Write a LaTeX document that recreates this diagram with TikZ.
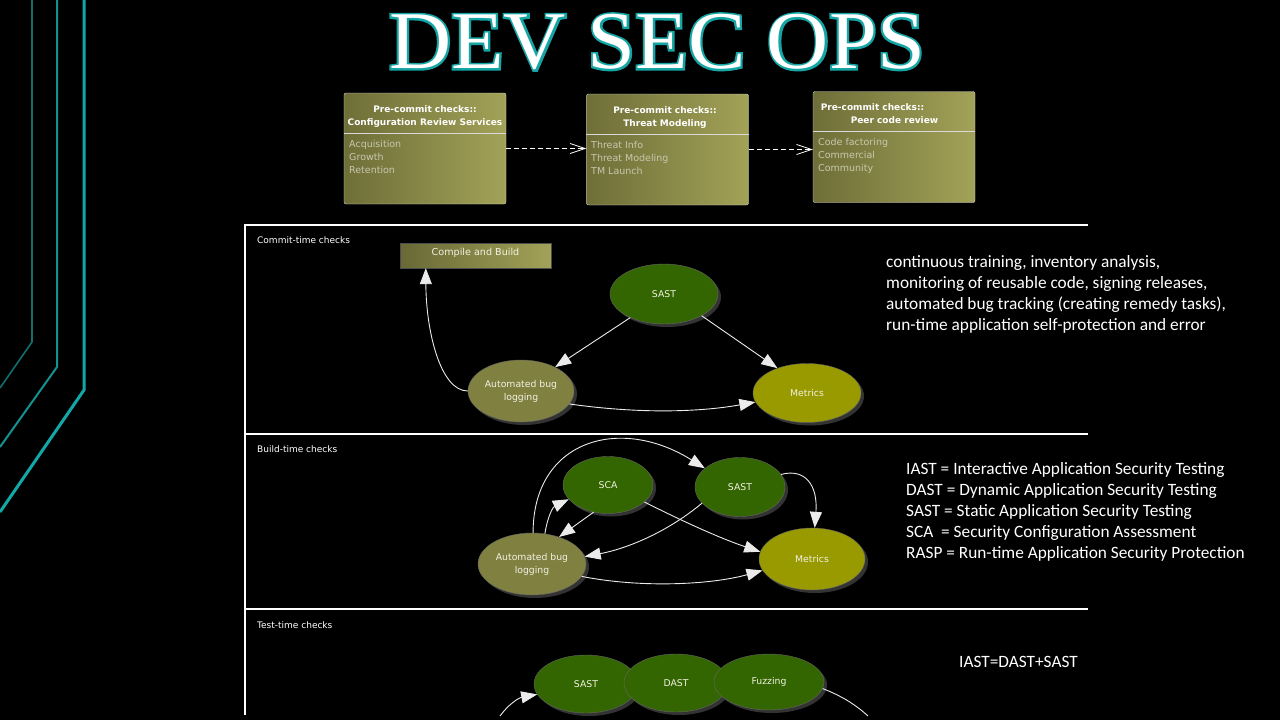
\documentclass[tikz,border=0pt]{standalone}
\usepackage{fontspec}
\setmainfont{DejaVu Sans}
\newfontfamily\carlito{Carlito}
\newfontfamily\ttlserif{Liberation Serif}
\newfontfamily\ttlglow[FakeBold=5]{Liberation Serif}
\usetikzlibrary{arrows.meta,shapes.geometric,shadows}

\definecolor{tealA}{RGB}{18,110,110}
\definecolor{tealB}{RGB}{20,145,145}
\definecolor{tealC}{RGB}{18,168,168}
\definecolor{glowteal}{RGB}{22,165,165}
\definecolor{boxL}{RGB}{110,110,56}
\definecolor{boxR}{RGB}{162,162,88}
\definecolor{itemtxt}{RGB}{200,200,176}
\definecolor{sastgreen}{RGB}{51,102,0}
\definecolor{bugolive}{RGB}{128,128,64}
\definecolor{metyellow}{RGB}{153,153,0}
\definecolor{lbltxt}{RGB}{242,242,228}

\begin{document}
\begin{tikzpicture}[x=1pt, y=-1pt,
		pcbox/.style={draw=white!85!black, rounded corners=2pt, left color=boxL, right color=boxR, minimum width=162pt, minimum height=111pt, inner sep=0},
		hdr/.style={font=\fontsize{9}{10}\selectfont\bfseries, text=white, inner sep=0, anchor=base},
		item/.style={font=\fontsize{9.5}{10}\selectfont, text=itemtxt, inner sep=0, anchor=base west},
		flow/.style={draw=white, line width=0.8pt, dash pattern=on 5pt off 3pt, -{Straight Barb[length=15pt,width=10pt]}},
		lane/.style={draw=white, line width=2pt},
		lanetxt/.style={font=\fontsize{9}{10}\selectfont, text=white, inner sep=0, anchor=base west},
		ell/.style={ellipse, draw=black!60, inner sep=0, text=lbltxt, align=center, font=\fontsize{9.3}{13}\selectfont, drop shadow={shadow xshift=3pt, shadow yshift=-3pt, fill=black!80!white, opacity=1}},
		cbox/.style={draw=black!70, left color=boxL!95!black, right color=boxR, minimum width=151pt, minimum height=25pt, text height=6pt, text depth=6pt, text=lbltxt, font=\fontsize{9.6}{10}\selectfont},
		arr/.style={draw=white!92!black, line width=0.9pt, -{Triangle[length=16pt,width=12pt]}},
		note/.style={font=\fontsize{17.3}{21}\selectfont\carlito, text=white, inner sep=0, anchor=base west},
		ttl/.style={inner sep=0}]

		\fill[black] (0,0) rectangle (1280,720);
		\useasboundingbox (0,0) rectangle (1280,720);

		% side lines
		\draw[tealA, line width=1.6pt] (32,0) -- (32,342) -- (0,388);
		\draw[tealB, line width=2pt] (57,0) -- (57,367) -- (0,447);
		\draw[tealC, line width=3pt] (84,0) -- (84,390) -- (0,512);

		% title
		\node[ttl, text=glowteal] (glow) at (657,42) {\fontsize{82}{82}\ttlglow\scalebox{1.05}[1]{DEV SEC OPS}};
		\node[ttl, text=white] (ttl) at (657,42) {\fontsize{82}{82}\ttlserif\scalebox{1.05}[1]{DEV SEC OPS}};

		% pre-commit boxes
		\node[pcbox] (crs) at (425,148.5) {};
		\node[pcbox] (tm) at (667.5,149.5) {};
		\node[pcbox] (pcr) at (894,147) {};
		\foreach \b in {crs,tm,pcr}
			\draw[white!85!black] ([yshift=-40pt]\b.north west) -- ([yshift=-40pt]\b.north east);

		\node[hdr] (crsh1) at (425,112) {Pre-commit checks::};
		\node[hdr] (crsh2) at (425,125) {Configuration Review Services};
		\node[hdr] (tmh1) at (665,113) {Pre-commit checks::};
		\node[hdr] (tmh2) at (665,126) {Threat Modeling};
		\node[hdr] (pcrh1) at (872.5,110) {Pre-commit checks::};
		\node[hdr] (pcrh2) at (894.5,123) {Peer code review};

		\foreach \t [count=\i] in {Acquisition,Growth,Retention}
			\node[item] (crsi\i) at (349,{134+13*\i}) {\t};
		\foreach \t [count=\i] in {Threat Info,Threat Modeling,TM Launch}
			\node[item] (tmi\i) at (591,{135.5+13*\i}) {\t};
		\foreach \t [count=\i] in {Code factoring,Commercial,Community}
			\node[item] (pcri\i) at (818,{132.5+13*\i}) {\t};

		\draw[flow] (crs.east) -- (crs.east -| tm.west);
		\draw[flow] (tm.east) -- (tm.east -| pcr.west);

		% lanes
		\draw[lane] (1088,225) -- (245,225) -- (245,715);
		\draw[lane] (245,434) -- (1088,434);
		\draw[lane] (245,609) -- (1088,609);
		\node[lanetxt] (lc) at (257,243) {Commit-time checks};
		\node[lanetxt] (lb) at (257,452) {Build-time checks};
		\node[lanetxt] (lt) at (257,628) {Test-time checks};

		% commit-time
		\node[cbox] (cb) at (475.5,255.5) {Compile and Build};
		\node[ell, fill=sastgreen, minimum width=108pt, minimum height=60pt] (sast1) at (664,294) {SAST};
		\node[ell, fill=bugolive, minimum width=106pt, minimum height=62pt] (bug1) at (521,391) {Automated bug\\logging};
		\node[ell, fill=metyellow, minimum width=108pt, minimum height=59pt] (met1) at (807,393) {Metrics};

		\draw[arr] (sast1.215) -- (bug1.35);
		\draw[arr] (sast1.330) -- (met1.140);
		\draw[arr] (bug1.180) .. controls (440,391) and (426,330) .. ([xshift=26pt]cb.south west);
		\draw[arr] (bug1.345) .. controls (640,414) and (700,412) .. (met1.190);

		% build-time
		\node[ell, fill=sastgreen, minimum width=90pt, minimum height=57pt] (sca) at (608,485) {SCA};
		\node[ell, fill=sastgreen, minimum width=90pt, minimum height=59pt] (sast2) at (740,487) {SAST};
		\node[ell, fill=bugolive, minimum width=108pt, minimum height=62pt] (bug2) at (532,564) {Automated bug\\logging};
		\node[ell, fill=metyellow, minimum width=106pt, minimum height=62pt] (met2) at (812,559) {Metrics};

		\draw[arr] (bug2.88) .. controls (533,440) and (620,415) .. (sast2.152);
		\draw[arr] (bug2.67) .. controls (548,515) and (553,507) .. (sca.200);
		\draw[arr] (sca.242) -- (bug2.45);
		\draw[arr] (sast2.203) .. controls (670,530) and (630,548) .. (bug2.8);
		\draw[arr] (sca.335) .. controls (690,525) and (725,540) .. (met2.172);
		\draw[arr] (sast2.17) .. controls (805,468) and (818,485) .. (met2.85);
		\draw[arr] (bug2.346) .. controls (640,588) and (710,585) .. (met2.193);

		% test-time
		\node[ell, fill=sastgreen, minimum width=104pt, minimum height=58pt] (sast3) at (586,684) {SAST};
		\node[ell, fill=sastgreen, minimum width=104pt, minimum height=58pt] (dast) at (676,683) {DAST};
		\node[ell, fill=sastgreen, minimum width=110pt, minimum height=56pt] (fuzz) at (769,682) {Fuzzing};
		\coordinate (in3) at (500,716);
		\coordinate (out3) at (868,716);
		\draw[arr] (in3) .. controls (508,705) and (518,698) .. (sast3.192);
		\draw[draw=white!92!black, line width=0.9pt] (fuzz.353) .. controls (842,696) and (856,705) .. (out3);

		% notes
		\foreach \yy/\t [count=\i] in {267/{continuous training, inventory analysis,},
				288/{monitoring of reusable code, signing releases,},
				309/{automated bug tracking (creating remedy tasks),},
				330/{run-time application self-protection and error}}
			\node[note] (na\i) at (886,\yy) {\t};
		\foreach \yy/\t [count=\i] in {474/{IAST = Interactive Application Security Testing},
				495/{DAST = Dynamic Application Security Testing},
				516/{SAST = Static Application Security Testing},
				537/{SCA\ \ = Security Configuration Assessment},
				558/{RASP = Run-time Application Security Protection}}
			\node[note] (nb\i) at (906,\yy) {\t};
		\node[note] (nc) at (959,667) {IAST=DAST+SAST};
	\end{tikzpicture}
\end{document}
